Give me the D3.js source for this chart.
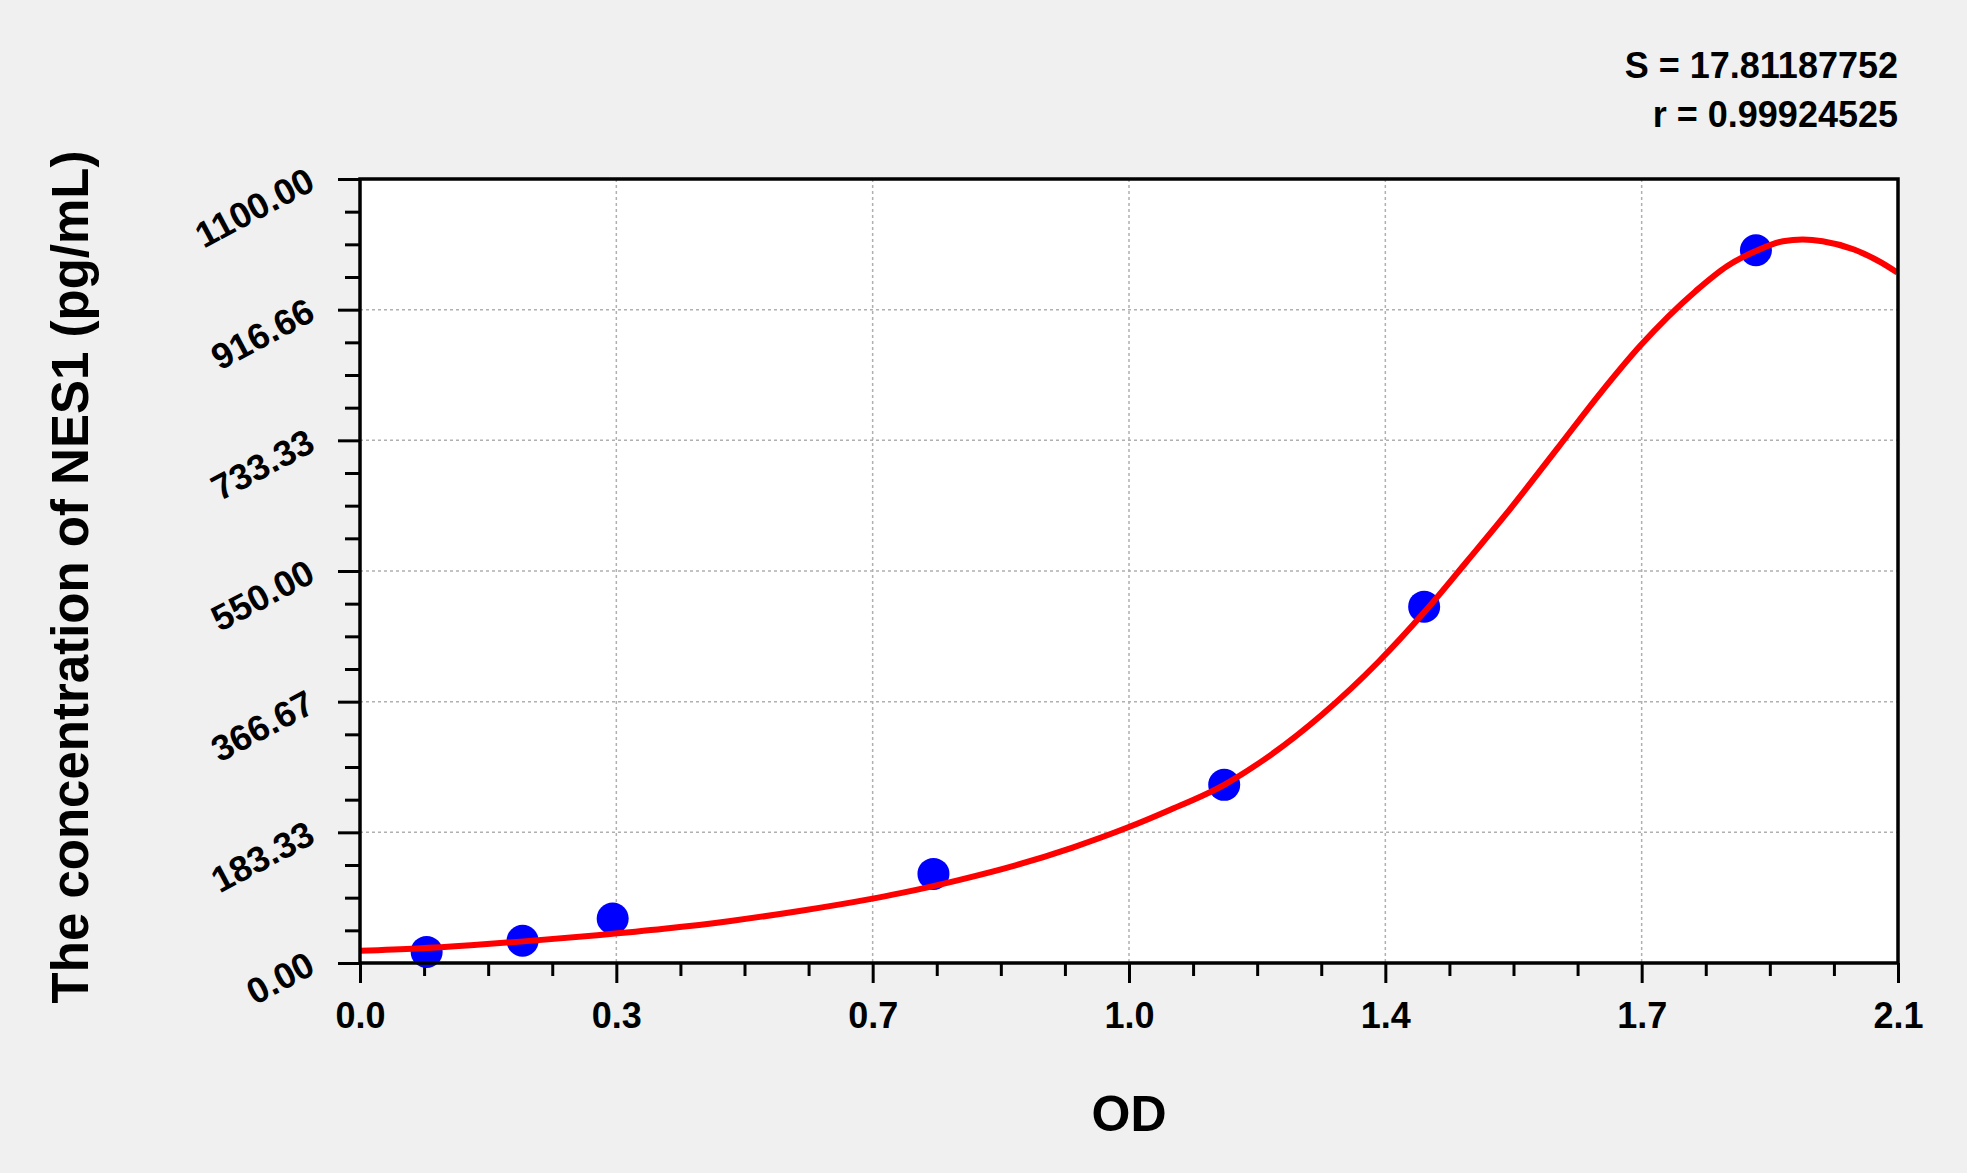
<!DOCTYPE html>
<html>
<head>
<meta charset="utf-8">
<script src="https://cdn.jsdelivr.net/npm/d3@7"></script>
<style>
  body { margin: 0; background: #f0f0f0; }
  svg { display: block; font-family: "Liberation Sans", Arial, sans-serif; font-weight: bold; }
</style>
</head>
<body>
<script>

// Standard points (OD, concentration)
var standardOD   = [0.091, 0.222, 0.345, 0.783, 1.180, 1.453, 1.906]
var standardConc = [15.6, 31.25, 62.5, 125, 250, 500, 1000]

// The fitted red curve, sampled along its path
var curveOD   = [0.000, 0.078, 0.151, 0.219, 0.324, 0.415, 0.506, 0.600, 0.698, 0.738, 0.816, 0.895, 0.973, 1.048, 1.104,
                 1.180, 1.234, 1.313, 1.391, 1.453, 1.511, 1.565, 1.635, 1.694, 1.748, 1.824, 1.867, 1.905, 1.943,
                 1.970, 1.997, 2.040, 2.078, 2.099]
var curveConc = [17.3, 20.5, 25.0, 30.0, 39.0, 48.0, 59.0, 73.0, 90.0, 98.0, 116.0, 137.0, 162.0, 190.0, 214.0,
                 250.0, 285.0, 348.0, 423.0, 492.0, 563.0, 630.0, 722.0, 800.0, 866.0, 943.0, 978.0, 998.6, 1012.7,
                 1015.0, 1012.7, 1001.0, 982.3, 968.7]

// Axis ticks and their labels
var xTicks = [0, 0.35, 0.7, 1.05, 1.4, 1.75, 2.1]
var xTickLabels = ["0.0", "0.3", "0.7", "1.0", "1.4", "1.7", "2.1"]
var yTicks = [0, 183.33, 366.67, 550, 733.33, 916.66, 1100]
var yTickLabels = ["0.00", "183.33", "366.67", "550.00", "733.33", "916.66", "1100.00"]

var statLines = ["S = 17.81187752", "r = 0.99924525"]

// Layout
var width = 1967
var height = 1173
var plot = {left: 360, top: 179, right: 1898, bottom: 963}

var svg = d3.select("body")
    .append("svg")
    .attr("width", width)
    .attr("height", height)

svg.append("rect")
    .attr("width", width)
    .attr("height", height)
    .attr("fill", "#f0f0f0")

var xScale = d3.scaleLinear()
    .domain([0, 2.1])
    .range([plot.left, plot.right])

var yScale = d3.scaleLinear()
    .domain([0, 1100])
    .range([plot.bottom, plot.top])

// white plot area
svg.append("rect")
    .attr("x", plot.left)
    .attr("y", plot.top)
    .attr("width", plot.right - plot.left)
    .attr("height", plot.bottom - plot.top)
    .attr("fill", "#ffffff")

// dashed grid at the major ticks
var grid = svg.append("g")
    .attr("stroke", "#b0b0b0")
    .attr("stroke-width", 1.5)
    .attr("stroke-dasharray", "3,3")

grid.selectAll(".vgrid")
    .data(xTicks.slice(1, -1))
    .join("line")
    .attr("x1", d => xScale(d))
    .attr("x2", d => xScale(d))
    .attr("y1", plot.top)
    .attr("y2", plot.bottom)

grid.selectAll(".hgrid")
    .data(yTicks.slice(1, -1))
    .join("line")
    .attr("x1", plot.left)
    .attr("x2", plot.right)
    .attr("y1", d => yScale(d))
    .attr("y2", d => yScale(d))

// minor ticks: four steps between each pair of majors
function minorsOf(ticks) {
    var out = []
    for (var i = 0; i < ticks.length - 1; i++) {
        var step = (ticks[i + 1] - ticks[i]) / 4
        for (var k = 1; k < 4; k++) out.push(ticks[i] + k * step)
    }
    return out
}

var xMinor = svg.append("g")
    .attr("transform", "translate(0," + plot.bottom + ")")
    .call(d3.axisBottom(xScale).tickValues(minorsOf(xTicks)).tickSize(13).tickSizeOuter(0).tickFormat(""))

var xAxis = svg.append("g")
    .attr("transform", "translate(0," + plot.bottom + ")")
    .call(d3.axisBottom(xScale)
        .tickValues(xTicks)
        .tickFormat((d, i) => xTickLabels[i])
        .tickSize(20)
        .tickSizeOuter(0)
        .tickPadding(19))

var yMinor = svg.append("g")
    .attr("transform", "translate(" + plot.left + ",0)")
    .call(d3.axisLeft(yScale).tickValues(minorsOf(yTicks)).tickSize(15).tickSizeOuter(0).tickFormat(""))

var yAxis = svg.append("g")
    .attr("transform", "translate(" + plot.left + ",0)")
    .call(d3.axisLeft(yScale)
        .tickValues(yTicks)
        .tickFormat((d, i) => yTickLabels[i])
        .tickSize(22)
        .tickSizeOuter(0))

// the y labels are slanted upward
yAxis.selectAll("text")
    .attr("x", 0)
    .attr("dy", 0)
    .attr("text-anchor", "end")
    .attr("transform", "translate(-43,9) rotate(-28)")

svg.selectAll(".domain").remove()
svg.selectAll(".tick line")
    .attr("stroke", "#000")
    .attr("stroke-width", 3)
svg.selectAll(".tick text")
    .attr("fill", "#000")
    .style("font-size", "36px")
    .style("font-weight", "bold")
    .style("font-family", "'Liberation Sans', Arial, sans-serif")

// data points, then the fitted curve on top
var standards = standardOD.map((d, i) => ({od: d, conc: standardConc[i]}))
var curvePts = curveOD.map((d, i) => ({od: d, conc: curveConc[i]}))

svg.append("g")
    .selectAll("circle")
    .data(standards)
    .join("circle")
    .attr("cx", d => xScale(d.od))
    .attr("cy", d => yScale(d.conc))
    .attr("r", 16)
    .attr("fill", "#0000ff")

var line = d3.line()
    .x(d => xScale(d.od))
    .y(d => yScale(d.conc))
    .curve(d3.curveMonotoneX)

svg.append("path")
    .datum(curvePts)
    .attr("d", line)
    .attr("fill", "none")
    .attr("stroke", "#ff0000")
    .attr("stroke-width", 6)
    .attr("stroke-linejoin", "round")

// frame
svg.append("rect")
    .attr("x", plot.left)
    .attr("y", plot.top)
    .attr("width", plot.right - plot.left)
    .attr("height", plot.bottom - plot.top)
    .attr("fill", "none")
    .attr("stroke", "#000")
    .attr("stroke-width", 3.5)

// axis titles
svg.append("text")
    .attr("x", (plot.left + plot.right) / 2)
    .attr("y", 1131)
    .attr("text-anchor", "middle")
    .style("font-size", "50px")
    .text("OD")

svg.append("text")
    .attr("transform", "translate(88," + 577 + ") rotate(-90)")
    .attr("text-anchor", "middle")
    .style("font-size", "51px")
    .text("The concentration of NES1 (pg/mL)")

// fit statistics, top right
svg.append("g")
    .selectAll("text")
    .data(statLines)
    .join("text")
    .attr("x", plot.right)
    .attr("y", (d, i) => 78 + i * 49)
    .attr("text-anchor", "end")
    .style("font-size", "36px")
    .text(d => d)

</script>
</body>
</html>
